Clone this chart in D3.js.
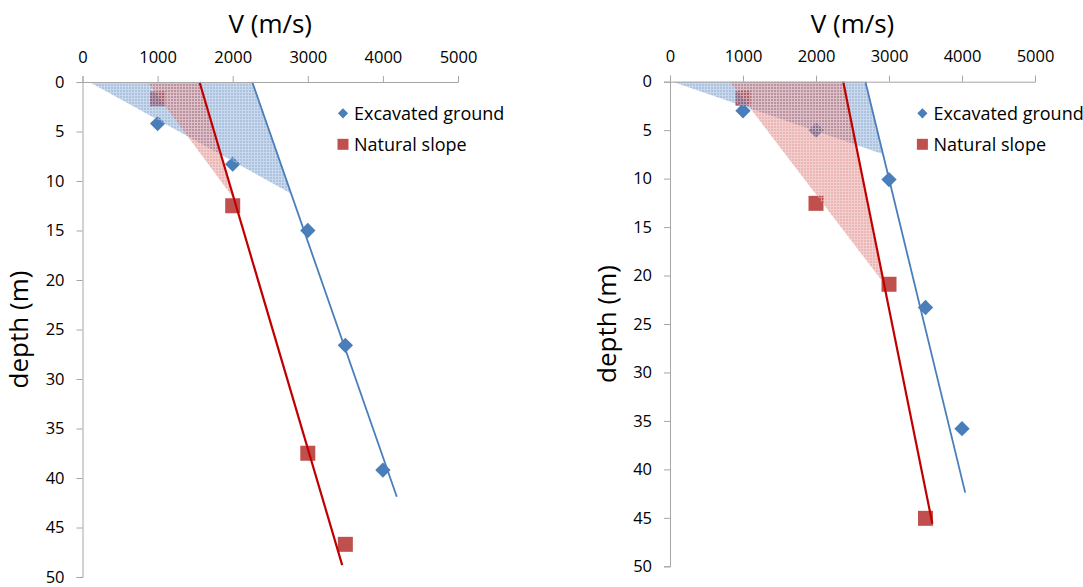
<!DOCTYPE html>
<html>
<head>
<meta charset="utf-8">
<script src="https://cdn.jsdelivr.net/npm/d3@7"></script>
<style>
  html, body { margin: 0; padding: 0; background: #fff; }
  svg { display: block; }
  text { font-family: "Open Sans", "Liberation Sans", sans-serif; fill: #000; }
</style>
</head>
<body>
<svg id="chart" width="1083" height="587"></svg>
<script>
// ---------- data ----------
const vTicks = [0, 1000, 2000, 3000, 4000, 5000];
const depthTicks = [0, 5, 10, 15, 20, 25, 30, 35, 40, 45, 50];
const seriesNames = ["Excavated ground", "Natural slope"];

// Left panel
const leftExcavV = [1000, 2000, 3000, 3500, 4000];
const leftExcavDepth = [4.2, 8.3, 15.0, 26.6, 39.2];
const leftNaturalV = [1000, 2000, 3000, 3500];
const leftNaturalDepth = [1.7, 12.5, 37.5, 46.7];
const leftExcavTrend = [[2260, 0], [4185, 41.9]];
const leftNaturalTrend = [[1558, 0], [3458, 48.8]];
const leftExcavZone = [[90, 0], [2260, 0], [2775, 11.25]];
const leftNaturalZone = [[863, 0], [1558, 0], [2017, 11.8]];

// Right panel
const rightExcavV = [1000, 2000, 3000, 3500, 4000];
const rightExcavDepth = [3.0, 5.0, 10.1, 23.3, 35.8];
const rightNaturalV = [1000, 2000, 3000, 3500];
const rightNaturalDepth = [1.7, 12.55, 20.9, 45.05];
const rightExcavTrend = [[2677, 0], [4044, 42.4]];
const rightNaturalTrend = [[2373, 0], [3594, 45.6]];
const rightExcavZone = [[34, 0], [2677, 0], [2912, 7.45]];
const rightNaturalZone = [[821, 0], [2373, 0], [2930, 20.8]];

// ---------- styles ----------
const BLUE = "#4a7ebb", RED_M = "#c0504d", RED_L = "#c00000", AXIS = "#a6a6a6";

const svg = d3.select("#chart");
const defs = svg.append("defs");
function makePattern(id, color, op) {
  const p = defs.append("pattern").attr("id", id).attr("patternUnits", "userSpaceOnUse")
    .attr("width", 3).attr("height", 3);
  p.append("rect").attr("width", 3).attr("height", 3).attr("fill", color).attr("fill-opacity", op);
  p.append("rect").attr("x", 0).attr("y", 2).attr("width", 3).attr("height", 1).attr("fill", "#fff").attr("fill-opacity", 0.35);
  p.append("rect").attr("x", 2).attr("y", 0).attr("width", 1).attr("height", 2).attr("fill", "#fff").attr("fill-opacity", 0.35);
}
makePattern("patBlue", "#4f81bd", 0.48);
makePattern("patRed", "#d0504c", 0.42);

function panel(cfg) {
  const x = d3.scaleLinear().domain([0, 5000]).range(cfg.xRange);
  const y = d3.scaleLinear().domain([0, 50]).range(cfg.yRange);
  const g = svg.append("g");

  // markers
  g.selectAll(".dia").data(cfg.excavV.map((v, i) => [v, cfg.excavD[i]])).join("path")
    .attr("transform", d => `translate(${x(d[0])},${y(d[1])})`)
    .attr("d", d3.symbol(d3.symbolDiamond2, 150)())
    .attr("fill", BLUE);
  g.selectAll(".sq").data(cfg.natV.map((v, i) => [v, cfg.natD[i]])).join("rect")
    .attr("x", d => x(d[0]) - 7.5).attr("y", d => y(d[1]) - 7.5)
    .attr("width", 15).attr("height", 15).attr("fill", RED_M);

  // shaded zones
  const line = d3.line().x(d => x(d[0])).y(d => y(d[1]));
  g.append("path").attr("d", line(cfg.excavZone) + "Z").attr("fill", "url(#patBlue)");
  g.append("path").attr("d", line(cfg.natZone) + "Z").attr("fill", "url(#patRed)");

  // trend lines
  g.append("path").attr("d", line(cfg.excavTrend)).attr("stroke", BLUE).attr("stroke-width", 1.8).attr("fill", "none");
  g.append("path").attr("d", line(cfg.natTrend)).attr("stroke", RED_L).attr("stroke-width", 2.2).attr("fill", "none");

  // axes
  const xa = g.append("g").attr("transform", `translate(0,${cfg.yRange[0]})`)
    .call(d3.axisTop(x).tickValues(vTicks).tickSize(6).tickPadding(13.5).tickFormat(d3.format("d")));
  const ya = g.append("g").attr("transform", `translate(${cfg.xRange[0]},0)`)
    .call(d3.axisLeft(y).tickValues(depthTicks).tickSize(6).tickPadding(12).tickFormat(d3.format("d")));
  [xa, ya].forEach(a => {
    a.selectAll("path, line").attr("stroke", AXIS).attr("stroke-width", 1);
    a.selectAll("text").attr("font-size", 16.5).attr("font-family", "'Open Sans', sans-serif").attr("fill", "#000");
  });

  // titles
  g.append("text").attr("x", (cfg.xRange[0] + cfg.xRange[1]) / 2).attr("y", 33)
    .attr("text-anchor", "middle").attr("font-size", 26).text("V (m/s)");
  g.append("text").attr("transform", `translate(${cfg.yLabelX},${(cfg.yRange[0] + cfg.yRange[1]) / 2}) rotate(-90)`)
    .attr("text-anchor", "middle").attr("font-size", 26).text("depth (m)");

  // legend
  const lg = g.append("g");
  lg.append("path").attr("transform", `translate(${cfg.legX},${cfg.legY})`)
    .attr("d", d3.symbol(d3.symbolDiamond2, 66)()).attr("fill", BLUE);
  lg.append("text").attr("x", cfg.legX + 11).attr("y", cfg.legY + 6.5).attr("font-size", 18).text(seriesNames[0]);
  lg.append("rect").attr("x", cfg.legX - 5.5).attr("y", cfg.legY + 31 - 5.5).attr("width", 11).attr("height", 11).attr("fill", RED_M);
  lg.append("text").attr("x", cfg.legX + 11).attr("y", cfg.legY + 31 + 6.5).attr("font-size", 18).text(seriesNames[1]);
}

panel({
  xRange: [82.5, 458], yRange: [82, 577], yLabelX: 28,
  excavV: leftExcavV, excavD: leftExcavDepth, natV: leftNaturalV, natD: leftNaturalDepth,
  excavTrend: leftExcavTrend, natTrend: leftNaturalTrend,
  excavZone: leftExcavZone, natZone: leftNaturalZone,
  legX: 343, legY: 113.3
});
panel({
  xRange: [670, 1035], yRange: [81.7, 566.3], yLabelX: 616,
  excavV: rightExcavV, excavD: rightExcavDepth, natV: rightNaturalV, natD: rightNaturalDepth,
  excavTrend: rightExcavTrend, natTrend: rightNaturalTrend,
  excavZone: rightExcavZone, natZone: rightNaturalZone,
  legX: 922.4, legY: 113.3
});
</script>
</body>
</html>
